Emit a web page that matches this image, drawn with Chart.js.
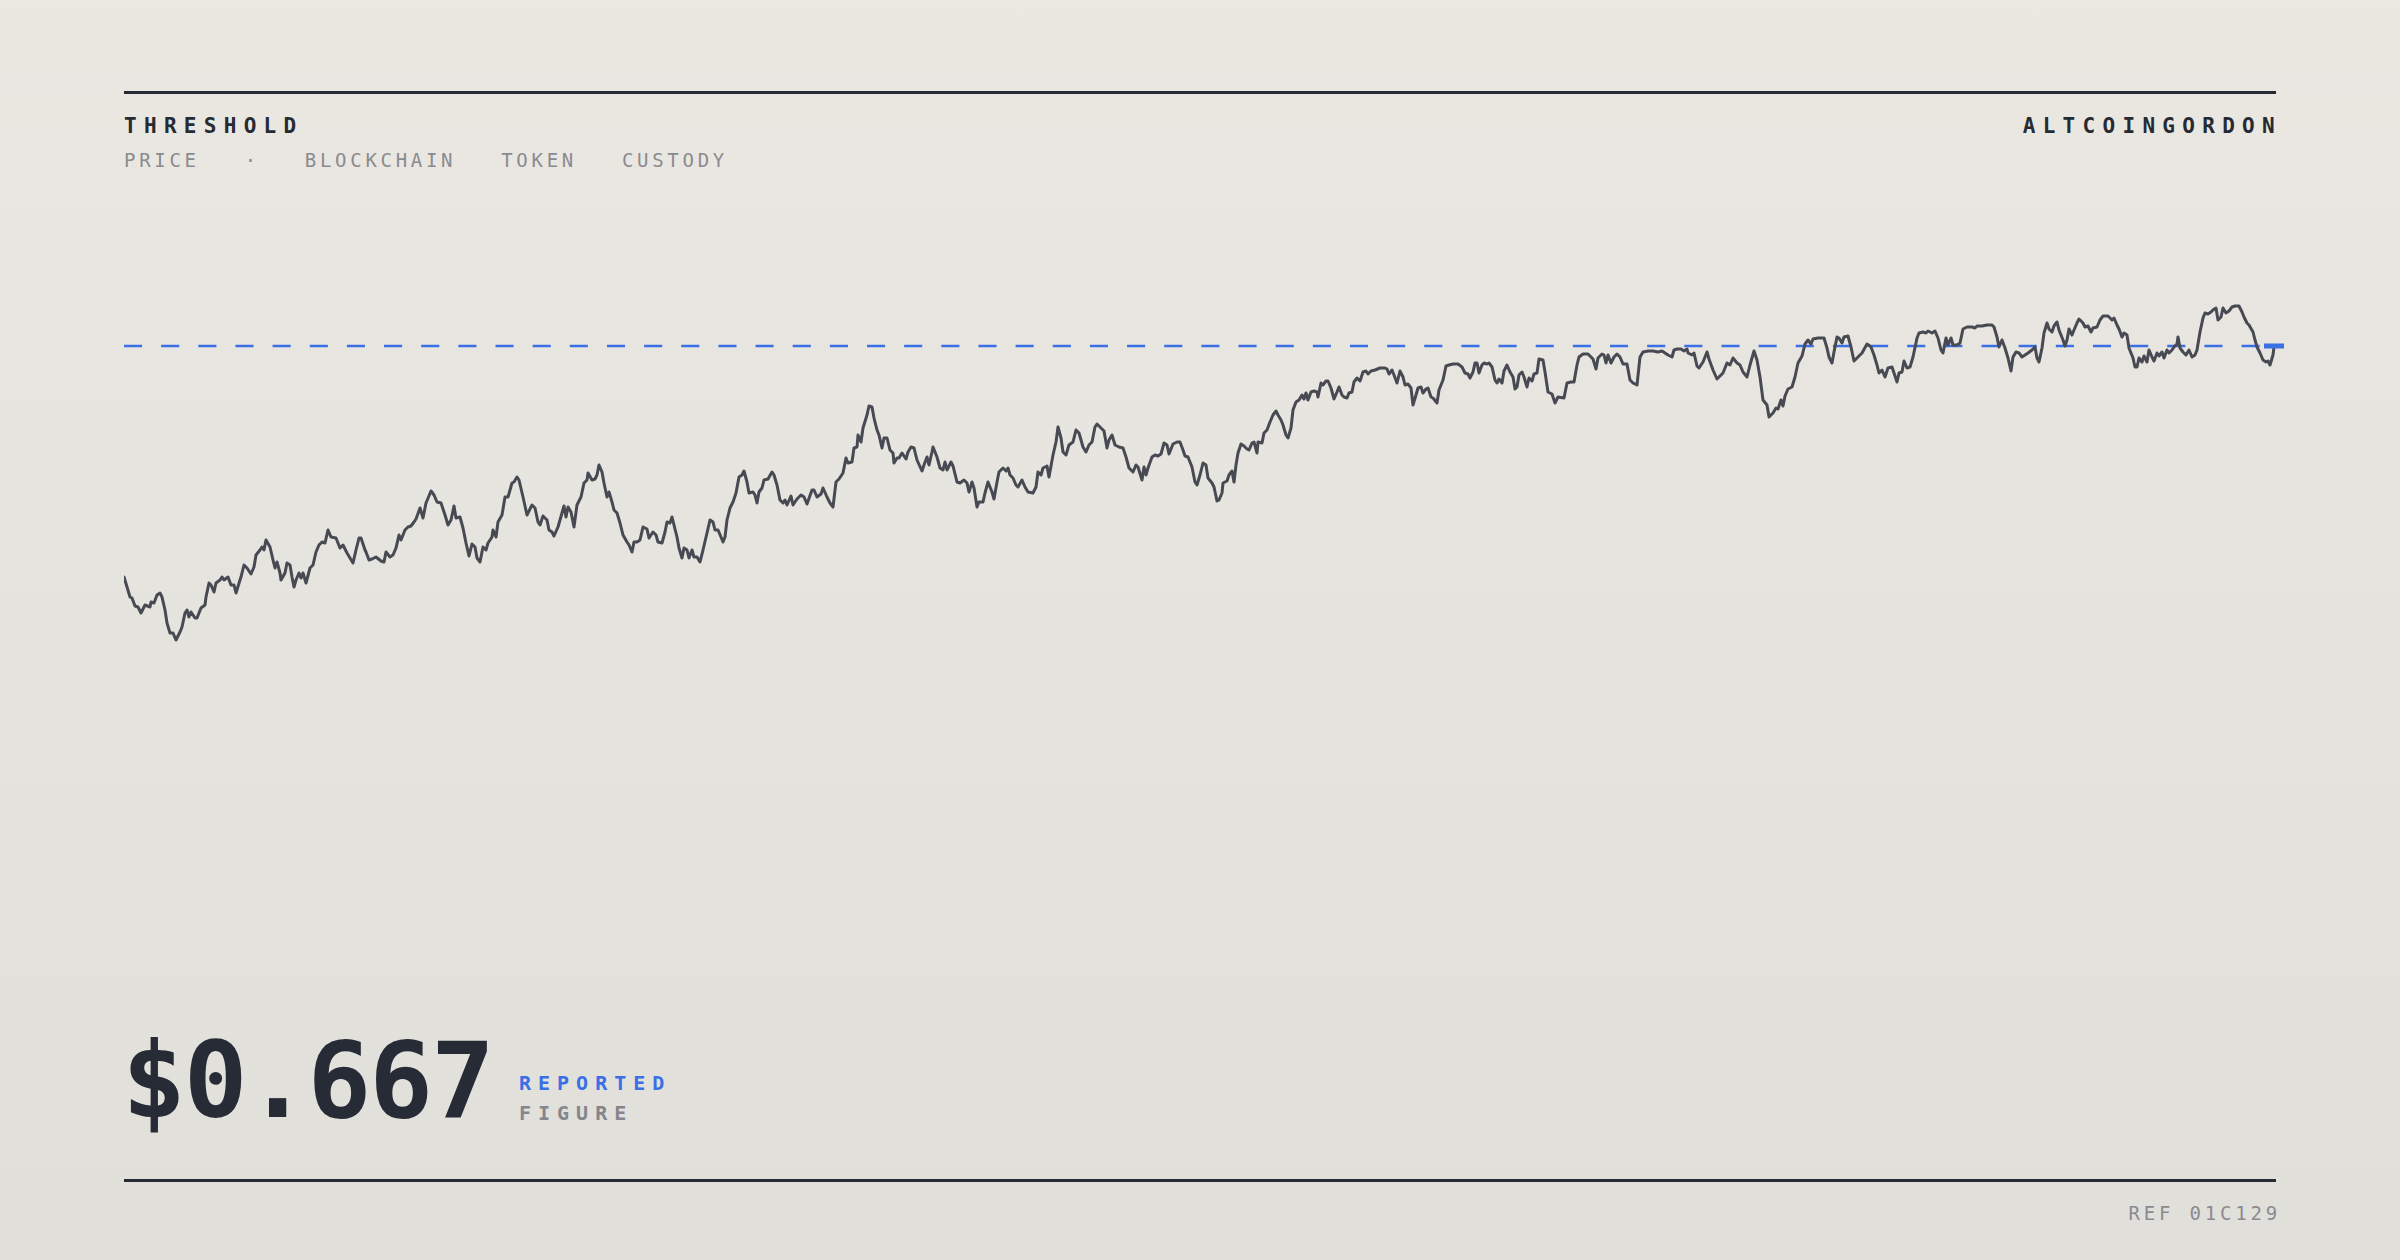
<!DOCTYPE html>
<html>
<head>
<meta charset="utf-8">
<script src="https://cdn.jsdelivr.net/npm/chart.js@4/dist/chart.umd.min.js"></script>
<style>
  html, body { margin: 0; padding: 0; }
  body {
    width: 2400px; height: 1260px; position: relative; overflow: hidden;
    background: linear-gradient(180deg, #ebe8e2 0%, #e0dfda 100%);
    font-family: "DejaVu Sans Mono", "Liberation Mono", monospace;
  }
  .rule { position: absolute; left: 124px; width: 2152px; height: 3px; background: #272b34; }
  .txt { position: absolute; white-space: nowrap; }
  .title { top: 116px; font-size: 21px; line-height: 21px; font-weight: 700; letter-spacing: 7.3px; color: #262a33; }
  .sub { top: 151px; left: 124px; font-size: 19px; line-height: 19px; letter-spacing: 3.7px; color: #8a8b90; display: flex; gap: 45px; }
  .big { top: 1028px; left: 122px; font-size: 106px; line-height: 106px; font-weight: 700; letter-spacing: -2px; color: #272b35; }
  .tag { left: 519px; font-size: 20px; line-height: 20px; font-weight: 700; letter-spacing: 7px; }
  #wrap { position: absolute; left: 124px; top: 160px; width: 2166px; height: 840px; }
</style>
</head>
<body>
<div class="rule" style="top:91px"></div>
<div class="txt title" style="left:124px">THRESHOLD</div>
<div class="txt title" style="right:118px">ALTCOINGORDON</div>
<div class="txt sub"><span>PRICE</span><span>·</span><span>BLOCKCHAIN</span><span>TOKEN</span><span>CUSTODY</span></div>

<div id="wrap"><canvas id="priceChart"></canvas></div>

<div class="txt big">$0.667</div>
<div class="txt tag" style="top:1073px;color:#3a6fe6">REPORTED</div>
<div class="txt tag" style="top:1103px;color:#85868c">FIGURE</div>
<div class="rule" style="top:1179px"></div>
<div class="txt" style="top:1204px;right:119px;font-size:19px;line-height:19px;letter-spacing:3.8px;color:#8a8b90">REF 01C129</div>

<script>
// price history in six stretches (x = day, y = price)
var days1 = [0,6,8,11,14,17,21,26,27,30,
  33,36,38,41,43,46,49,52,56,58,
  61,63,65,67,71,73,77,81,82,85,
  87,90,92,96,98,100,104,107,110,112,
  116,117,120,123,127,130,132,136,138,140,
  142,146,149,151,153,156,157,161,163,166,
  168,170,172,175,177,179,182,186,189,192,
  195,198,201,204,207,212,216,219,223,229,
  232,235,237,241,242,245,248,252,257,260,
  262,266,269,272,275,277,281,284,287,290,
  292,296,299,302,307,310,313,317,321,324,
  327,330,332,336,339,342,345,348,351,353,
  356];
var price1 = [.436,.416,.415,.407,.406,.400,.408,.406,.411,.410,
  .418,.420,.416,.403,.390,.380,.380,.373,.381,.386,
  .400,.403,.396,.401,.395,.395,.405,.408,.416,.430,
  .428,.421,.430,.433,.436,.433,.436,.428,.428,.420,
  .433,.436,.448,.445,.439,.446,.458,.463,.466,.463,
  .473,.466,.453,.445,.451,.440,.433,.440,.450,.448,
  .436,.426,.433,.440,.435,.440,.430,.445,.448,.461,
  .468,.471,.470,.483,.476,.475,.465,.468,.460,.450,
  .463,.475,.475,.463,.461,.453,.454,.456,.452,.451,
  .461,.456,.458,.465,.478,.473,.483,.486,.487,.491,
  .494,.505,.495,.510,.522,.518,.511,.510,.498,.488,
  .493,.507,.495,.496,.485,.470,.457,.469,.466,.455,
  .451];

var days2 = [359,362,364,368,369,372,374,378,381,384,
  388,390,393,395,399,403,408,411,414,416,
  419,423,425,428,430,434,438,440,442,444,
  447,450,453,457,460,463,464,468,471,473,
  475,478,480,483,485,488,490,493,496,499,
  503,505,508,510,513,516,519,523,525,529,
  532,534,538,541,543,546,548,550,553,555,
  558,560,563,565,568,570,573,576,579,583,
  586,589,591,594,597,599,601,603,606,609,
  612,615,618,620,623,625,629,631,633,635,
  638,640,644,648,650,653,656,659,661,663,
  667,669,673,677,680,683,688,690,693,697,
  699,703,706,709,712,715];
var price2 = [.466,.463,.470,.476,.483,.476,.491,.498,.516,.516,
  .530,.531,.536,.533,.516,.498,.508,.505,.491,.488,
  .497,.493,.483,.481,.477,.486,.500,.507,.496,.506,
  .501,.486,.508,.516,.530,.533,.540,.533,.534,.538,
  .548,.541,.530,.516,.521,.511,.503,.500,.490,.478,
  .471,.468,.461,.471,.471,.473,.486,.484,.475,.481,
  .478,.471,.470,.481,.491,.490,.496,.488,.476,.465,
  .455,.465,.463,.455,.463,.456,.456,.451,.463,.480,
  .493,.491,.483,.483,.476,.471,.476,.493,.505,.511,
  .520,.536,.538,.542,.531,.520,.521,.518,.510,.521,
  .525,.533,.534,.541,.538,.528,.513,.510,.513,.508,
  .517,.508,.514,.518,.516,.509,.523,.523,.516,.519,
  .525,.516,.510,.506,.531,.534];

var days3 = [719,722,724,728,730,733,734,737,739,743,
  745,748,750,753,755,758,760,763,766,769,
  770,773,775,778,780,782,784,787,790,793,
  798,800,803,805,808,809,813,816,819,821,
  823,827,829,833,836,840,843,845,848,850,
  853,855,859,861,864,868,870,873,875,879,
  882,884,886,889,892,894,898,901,904,909,
  912,914,917,919,923,925,929,932,934,937,
  939,942,945,949,952,955,959,962,965,968,
  971,973,977,980,983,985,988,991,995,999,
  1002,1005,1009,1012,1014,1018,1020,1022,1024,1028,
  1031,1034,1037,1040,1043,1045,1049,1053,1056,1059,
  1061,1064,1068,1071,1073,1076];
var price3 = [.540,.555,.550,.551,.565,.566,.578,.571,.585,.598,
  .607,.606,.595,.583,.578,.565,.575,.575,.563,.560,
  .550,.555,.555,.560,.557,.554,.561,.566,.565,.553,
  .542,.548,.556,.548,.561,.566,.556,.545,.543,.551,
  .543,.551,.547,.531,.530,.533,.530,.521,.531,.525,
  .506,.511,.511,.520,.531,.521,.514,.531,.541,.545,
  .542,.545,.538,.535,.528,.526,.533,.526,.521,.520,
  .526,.541,.538,.545,.547,.536,.558,.571,.586,.575,
  .561,.558,.568,.571,.583,.580,.566,.561,.568,.571,
  .586,.589,.585,.582,.565,.573,.578,.568,.566,.565,
  .556,.545,.541,.548,.546,.533,.546,.538,.545,.556,
  .558,.557,.559,.570,.568,.559,.569,.571,.571,.563,
  .557,.556,.546,.531,.528,.538];

var days4 = [1079,1082,1084,1088,1090,1093,1095,1098,1099,1103,
  1105,1108,1110,1112,1114,1117,1120,1123,1125,1128,
  1130,1133,1134,1138,1140,1143,1146,1149,1152,1154,
  1157,1159,1162,1164,1167,1169,1172,1175,1178,1180,
  1182,1184,1187,1190,1193,1194,1197,1199,1202,1204,
  1207,1210,1213,1215,1218,1220,1223,1225,1228,1230,
  1233,1236,1239,1242,1244,1247,1251,1256,1261,1263,
  1265,1268,1270,1273,1276,1279,1281,1284,1287,1289,
  1292,1294,1297,1299,1302,1304,1307,1309,1313,1315,
  1319,1322,1325,1329,1334,1338,1341,1344,1346,1349,
  1351,1353,1355,1358,1360,1363,1365,1368,1371,1373,
  1375,1378,1380,1383,1386,1389,1391,1393,1395,1398,
  1400,1403,1405,1408,1410,1413,1415,1419,1421,1424,
  1428,1431,1434];
var price4 = [.550,.548,.535,.530,.526,.512,.513,.520,.530,.532,
  .538,.542,.531,.548,.560,.569,.567,.564,.563,.570,
  .571,.560,.571,.570,.580,.583,.591,.598,.602,.598,
  .593,.588,.578,.575,.585,.603,.611,.613,.618,.614,
  .620,.613,.621,.622,.621,.616,.630,.628,.632,.632,
  .625,.614,.621,.626,.618,.616,.615,.620,.621,.631,
  .635,.632,.641,.642,.639,.642,.643,.645,.645,.644,
  .639,.643,.638,.630,.642,.636,.628,.629,.625,.608,
  .618,.625,.626,.620,.624,.625,.616,.615,.610,.623,
  .633,.647,.648,.649,.649,.646,.640,.639,.635,.641,
  .650,.650,.640,.648,.650,.649,.650,.646,.633,.630,
  .634,.630,.642,.648,.641,.636,.624,.626,.638,.641,
  .636,.626,.635,.632,.639,.640,.654,.653,.641,.621,
  .619,.610,.616];

var days5 = [1440,1443,1447,1450,1453,1455,1459,1464,1469,1472,
  1474,1478,1480,1482,1484,1487,1490,1493,1496,1499,
  1503,1506,1509,1513,1516,1519,1524,1529,1534,1538,
  1541,1544,1548,1550,1553,1557,1560,1563,1564,1568,
  1570,1573,1575,1579,1583,1585,1589,1593,1596,1599,
  1603,1606,1609,1613,1616,1619,1623,1626,1630,1633,
  1636,1639,1643,1645,1649,1652,1654,1657,1659,1661,
  1664,1668,1671,1674,1678,1681,1684,1687,1689,1694,
  1700,1703,1705,1708,1710,1713,1715,1718,1720,1724,
  1727,1730,1733,1738,1743,1747,1750,1753,1755,1758,
  1761,1764,1768,1770,1773,1775,1778,1780,1783,1786,
  1789,1793,1795];
var price5 = [.615,.630,.631,.631,.648,.656,.659,.659,.654,.644,
  .655,.659,.658,.650,.658,.650,.656,.659,.656,.649,
  .649,.633,.630,.628,.656,.661,.662,.662,.661,.662,
  .660,.658,.656,.663,.664,.664,.662,.664,.660,.658,
  .660,.647,.645,.651,.661,.654,.643,.634,.637,.640,
  .650,.648,.655,.650,.648,.641,.636,.648,.662,.653,
  .636,.613,.608,.596,.600,.605,.604,.613,.607,.617,
  .624,.626,.636,.650,.657,.669,.673,.669,.674,.675,
  .675,.665,.656,.650,.661,.676,.675,.670,.676,.677,
  .666,.652,.655,.660,.669,.666,.658,.648,.640,.643,
  .636,.645,.646,.640,.631,.640,.641,.652,.645,.646,
  .656,.675,.680];

var days6 = [1799,1802,1804,1808,1811,1814,1817,1819,1822,1824,
  1827,1829,1833,1836,1839,1843,1848,1851,1853,1858,
  1863,1868,1870,1873,1875,1878,1881,1884,1887,1889,
  1892,1895,1898,1901,1904,1908,1911,1913,1915,1918,
  1920,1923,1925,1928,1930,1933,1935,1939,1941,1943,
  1945,1948,1950,1953,1955,1959,1961,1964,1967,1969,
  1973,1976,1979,1984,1988,1990,1993,1995,1998,2000,
  2003,2005,2009,2011,2013,2015,2018,2020,2023,2025,
  2028,2030,2033,2035,2038,2040,2043,2045,2048,2050,
  2053,2054,2056,2059,2062,2065,2068,2071,2073,2076,
  2079,2081,2084,2087,2089,2092,2094,2097,2099,2102,
  2105,2108,2111,2115,2118,2120,2123,2125,2129,2131,
  2133,2136,2139,2142,2144,2146,2149,2150];
var price6 = [.681,.680,.682,.680,.682,.675,.663,.660,.675,.668,
  .675,.668,.668,.670,.684,.686,.686,.685,.687,.687,
  .688,.688,.686,.676,.666,.673,.665,.655,.642,.656,
  .661,.660,.656,.658,.660,.663,.666,.655,.651,.665,
  .680,.690,.684,.681,.687,.691,.683,.673,.667,.673,
  .684,.678,.683,.690,.694,.690,.686,.687,.681,.685,
  .686,.693,.697,.697,.693,.695,.688,.684,.676,.680,
  .678,.665,.655,.646,.646,.655,.651,.657,.651,.663,
  .656,.652,.660,.657,.661,.655,.663,.660,.663,.666,
  .669,.676,.665,.661,.658,.663,.656,.658,.663,.681,
  .695,.700,.699,.701,.703,.705,.693,.696,.705,.700,
  .702,.706,.707,.707,.701,.696,.690,.688,.681,.673,
  .666,.660,.653,.651,.652,.648,.658,.666];

// dashed threshold level and the short end marker on it
var threshold = 0.667;
var thresholdDays = [0, 2160];
var markerDays = [2140, 2160];

var days = days1.concat(days2, days3, days4, days5, days6);
var prices = price1.concat(price2, price3, price4, price5, price6);

var ctx = document.getElementById('priceChart').getContext('2d');

var myChart = new Chart(ctx, {
  type: 'line',
  data: {
    datasets: [{
      data: markerDays.map(function (d) { return { x: d, y: threshold }; }),
      borderColor: '#3a6fe6',
      borderWidth: 5,
      pointRadius: 0,
      order: 0
    }, {
      data: days.map(function (d, i) { return { x: d, y: prices[i] }; }),
      borderColor: '#474a52',
      borderWidth: 3,
      borderJoinStyle: 'round',
      borderCapStyle: 'round',
      pointRadius: 0,
      tension: 0,
      order: 1
    }, {
      data: thresholdDays.map(function (d) { return { x: d, y: threshold }; }),
      borderColor: '#3a6fe6',
      borderWidth: 2.5,
      borderDash: [18.1, 19.05],
      borderDashOffset: 0,
      pointRadius: 0,
      order: 2
    }]
  },
  options: {
    animation: false,
    responsive: true,
    maintainAspectRatio: false,
    clip: false,
    layout: { padding: 0 },
    plugins: {
      legend: { display: false },
      tooltip: { enabled: false }
    },
    scales: {
      x: { type: 'linear', min: 0, max: 2166, display: false },
      y: { min: 0.013, max: 0.853, display: false }
    }
  }
});
</script>
</body>
</html>
